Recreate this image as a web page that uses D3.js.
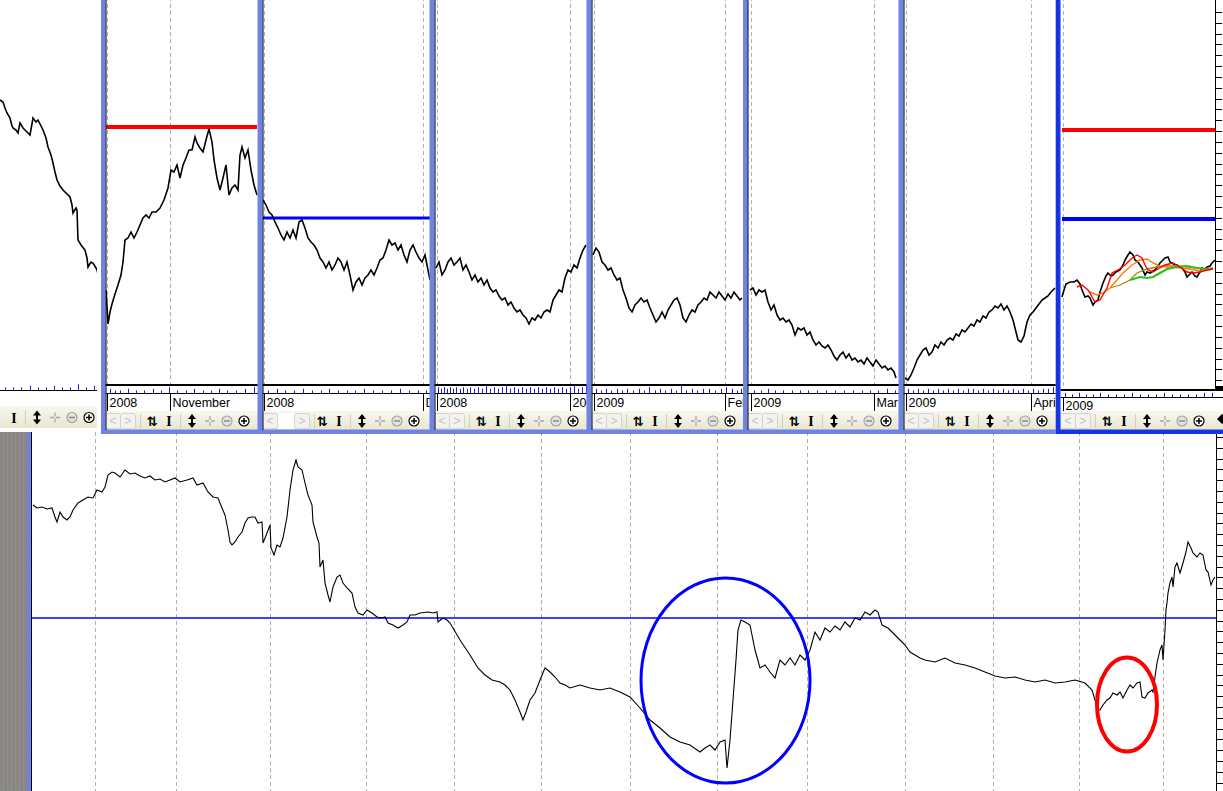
<!DOCTYPE html>
<html><head><meta charset="utf-8">
<script src="https://cdn.jsdelivr.net/npm/d3@7"></script>
<style>body{margin:0;background:#fff;overflow:hidden}svg{display:block}</style>
</head><body><script>
// ---------------- DATA ----------------
// top panels: [day offset within panel, price]
const p0Prices = [[0,30.0],[3,29.8],[5,29.2],[7,28.7],[10,28.2],[12,27.4],[13,27.2],[16,27.0],[18,26.7],[20,27.7],[23,27.2],[25,27.0],[28,26.7],[30,26.5],[33,28.2],[36,27.8],[38,28.0],[41,27.4],[43,27.0],[46,26.2],[48,25.3],[51,24.5],[53,23.7],[55,22.8],[57,22.0],[60,21.4],[63,21.0],[66,20.7],[70,20.3],[72,19.5],[73,18.7],[76,19.2],[77,19.0],[78,16.0],[81,15.5],[85,15.0],[87,14.2],[88,13.3],[91,13.8],[93,13.7],[96,13.2],[97,13.0],[100,11.8]];
const p1Prices = [[0,11.0],[2,7.6],[4,8.8],[6,9.6],[9,10.6],[12,11.5],[15,12.5],[17,13.8],[19,16.0],[22,16.2],[25,16.8],[28,16.2],[31,16.8],[34,17.5],[37,18.2],[40,18.5],[43,18.2],[46,18.8],[50,18.8],[54,19.2],[58,20.0],[62,21.2],[65,23.0],[68,22.8],[71,23.5],[74,22.2],[77,23.5],[80,24.2],[83,25.0],[86,25.0],[89,26.3],[91,25.7],[94,25.2],[97,24.8],[100,26.0],[103,27.1],[106,25.8],[108,24.0],[111,22.2],[114,21.0],[117,22.2],[120,23.5],[123,20.5],[126,21.2],[129,21.5],[132,21.0],[134,24.5],[136,25.3],[139,24.2],[142,25.0],[145,23.0],[148,21.5],[151,20.5]];
const p2Prices = [[0,20.0],[3,19.5],[6,18.8],[9,18.5],[12,17.8],[15,17.2],[18,16.5],[21,16.0],[24,16.8],[27,16.2],[30,17.0],[33,16.2],[36,17.8],[39,18.0],[42,17.2],[45,16.2],[48,15.8],[51,15.5],[54,15.0],[57,14.2],[60,13.8],[63,13.2],[66,13.8],[69,13.0],[72,13.5],[75,14.2],[78,13.8],[81,13.0],[84,13.8],[87,12.5],[90,11.0],[93,11.8],[96,12.2],[99,11.5],[102,12.2],[105,12.5],[108,13.0],[111,12.5],[114,13.2],[117,14.0],[120,14.2],[123,15.0],[126,16.0],[129,15.5],[132,15.7],[135,15.0],[138,15.5],[141,14.5],[144,13.8],[147,15.0],[150,15.5],[153,14.8],[156,14.2],[159,13.8],[162,14.5],[165,13.0],[167,12.0]];
const p3Prices = [[0,13.2],[3,13.8],[6,12.5],[9,13.0],[12,13.8],[15,14.2],[18,13.5],[21,13.8],[24,14.2],[27,13.0],[30,13.5],[33,12.8],[36,12.0],[39,12.5],[42,11.8],[45,12.2],[48,11.5],[51,12.0],[54,11.2],[57,10.8],[60,11.0],[63,10.4],[66,10.0],[69,10.2],[72,9.5],[75,9.8],[78,9.2],[81,8.8],[84,9.0],[87,8.5],[90,8.2],[93,7.6],[96,8.2],[99,8.0],[102,8.5],[105,8.2],[108,8.8],[111,9.0],[114,8.8],[117,10.0],[120,10.5],[123,11.0],[126,10.8],[129,12.2],[132,13.0],[135,12.8],[138,13.5],[141,13.2],[144,14.2],[147,15.0],[150,15.5]];
const p4Prices = [[0,14.5],[3,15.2],[6,14.8],[9,13.8],[12,13.5],[15,13.0],[18,13.2],[21,12.5],[24,12.0],[27,12.2],[30,11.0],[33,10.2],[36,9.2],[39,8.8],[42,9.5],[45,9.8],[48,10.2],[51,9.8],[54,10.0],[57,9.2],[60,8.5],[63,7.8],[66,8.2],[69,8.8],[72,8.2],[75,9.0],[78,9.5],[81,10.0],[84,10.2],[87,9.5],[90,8.2],[93,7.8],[96,8.5],[99,9.0],[102,8.8],[105,9.5],[108,9.8],[111,10.2],[114,10.0],[117,10.8],[120,10.5],[123,10.2],[126,10.8],[129,10.4],[132,10.0],[135,10.6],[138,10.2],[141,10.8],[144,10.4],[147,10.0],[149,10.2]];
const p5Prices = [[0,11.0],[3,11.2],[6,10.5],[9,11.0],[12,10.8],[15,11.0],[18,9.8],[21,9.0],[24,9.5],[27,8.5],[30,8.0],[33,8.2],[36,7.8],[39,8.0],[42,7.5],[45,6.5],[48,7.2],[51,7.0],[54,7.2],[57,6.5],[60,6.8],[63,6.0],[66,5.5],[69,5.8],[72,5.4],[75,5.2],[78,5.5],[81,5.0],[84,4.4],[87,4.0],[90,4.5],[93,4.8],[96,4.2],[99,4.6],[102,4.0],[105,4.2],[108,3.8],[111,4.0],[114,3.6],[117,4.2],[120,3.8],[123,3.4],[126,4.0],[129,3.6],[132,3.2],[135,3.4],[138,3.0],[141,3.2],[144,2.8],[146,2.2]];
const p6Prices = [[0,2.2],[3,2.0],[6,2.5],[9,3.2],[12,4.0],[15,4.5],[18,5.0],[21,5.2],[24,4.5],[27,4.8],[30,5.5],[33,5.2],[36,5.8],[39,5.5],[42,6.0],[45,6.2],[48,6.0],[51,6.6],[54,6.4],[57,7.0],[60,6.8],[63,7.2],[66,7.6],[69,7.4],[72,8.0],[75,7.8],[78,8.4],[81,8.2],[84,8.8],[87,9.0],[90,9.4],[93,9.2],[96,9.6],[99,9.0],[102,9.4],[105,8.8],[108,8.0],[111,6.8],[113,6.0],[116,5.8],[119,6.4],[122,7.8],[125,8.5],[128,8.8],[131,9.2],[134,9.6],[137,10.0],[140,10.2],[143,10.4],[146,10.8],[150,11.2]];
const p7Prices = [[0,10.3],[2,11.0],[4,11.6],[8,11.8],[12,11.8],[15,12.0],[18,11.6],[20,11.0],[23,10.3],[26,10.4],[28,10.2],[31,9.5],[33,9.8],[36,10.0],[38,10.8],[41,11.7],[44,12.4],[46,12.7],[49,12.4],[51,12.5],[54,12.8],[58,13.0],[61,13.5],[63,14.0],[66,14.5],[68,14.8],[71,14.5],[73,14.0],[76,13.8],[78,13.5],[80,13.2],[83,12.5],[85,12.8],[88,12.7],[91,12.9],[93,13.0],[96,13.4],[98,13.7],[101,14.0],[103,14.2],[106,14.3],[108,13.8],[110,13.7],[113,13.5],[115,13.5],[118,13.3],[120,13.2],[123,12.8],[125,12.3],[128,12.6],[130,12.8],[133,12.4],[135,12.3],[138,12.8],[140,13.2],[143,13.1],[145,13.3],[148,13.4],[150,13.7],[153,14.0]];
// moving averages in the last panel
const p7MaRed = [[15,11.3],[20,11.5],[26,11.0],[33,9.8],[38,10.0],[45,11.2],[50,12.7],[56,13.0],[63,13.5],[70,14.2],[75,14.5],[80,14.2],[83,13.5],[86,13.0],[91,12.8],[96,13.1],[103,13.5],[111,13.7],[118,13.3],[125,12.8],[131,12.7],[138,12.8],[145,13.0],[151,13.1]];
const p7MaOrange = [[28,10.8],[35,10.5],[41,10.7],[48,11.2],[55,12.0],[61,12.7],[70,13.5],[78,14.0],[85,14.1],[91,13.7],[98,13.4],[105,13.3],[111,13.3],[118,13.2],[128,13.1],[138,12.9],[151,13.1]];
const p7MaOlive = [[48,11.2],[58,11.5],[68,12.0],[75,12.7],[85,13.1],[95,13.3],[105,13.4],[115,13.4],[128,13.3],[141,13.1],[151,13.2]];
const p7MaGreen = [[68,12.0],[78,12.3],[85,12.2],[91,12.3],[98,12.7],[105,13.1],[115,13.3],[125,13.4],[135,13.2],[145,13.1],[151,13.1]];
// horizontal levels
const p1RedLevel = 27.3, p2BlueLevel = 18.2, p7RedLevel = 27.0, p7BlueLevel = 18.1;
// volume: [day, size]
const vol0 = [[5,1],[13,1],[21,1],[30,2],[38,1],[46,1],[54,2],[62,1],[70,1],[78,3],[86,1],[94,2]];
const vol1 = [[4,2],[9,1],[14,1],[22,2],[30,1],[38,1],[47,2],[55,1],[63,3],[71,1],[80,1],[88,2],[97,1],[105,1],[113,2],[121,1],[130,1],[139,2],[148,3]];
const vol2 = [[5,1],[14,2],[22,1],[31,1],[40,2],[49,1],[58,1],[66,2],[75,1],[84,1],[92,1],[101,2],[110,1],[119,1],[128,1],[137,2],[146,1],[155,1],[163,1]];
const vol3 = [[2,3],[5,2],[8,3],[11,2],[14,3],[17,2],[20,3],[24,2],[27,3],[31,2],[34,3],[38,2],[42,3],[46,2],[50,4],[54,2],[58,3],[62,2],[66,3],[70,4],[74,2],[78,3],[82,2],[86,3],[90,2],[94,3],[98,2],[102,3],[106,2],[110,3],[114,2],[118,3],[122,2],[126,3],[130,2],[134,3],[138,4],[142,2],[146,3],[150,4]];
const vol4 = [[3,2],[8,1],[13,2],[18,1],[24,2],[29,1],[34,2],[40,1],[46,2],[51,1],[56,3],[62,1],[67,2],[72,1],[78,2],[83,1],[88,4],[93,1],[99,2],[104,1],[110,2],[116,2],[122,1],[128,2],[133,3],[139,2],[144,1],[148,2]];
const vol5 = [[4,1],[11,1],[18,2],[25,1],[33,1],[42,1],[50,1],[58,1],[67,1],[76,1],[85,1],[94,1],[103,1],[112,1],[120,1],[128,1],[137,2],[145,1]];
const vol6 = [[3,2],[8,1],[13,2],[18,1],[23,2],[28,1],[33,2],[38,1],[43,2],[48,1],[53,2],[58,1],[63,2],[68,2],[73,1],[78,2],[83,1],[88,2],[93,1],[98,2],[103,1],[108,2],[113,1],[118,2],[123,1],[128,2],[133,1],[138,2],[143,2],[148,3]];
const vol7 = [[3,2],[10,1],[17,2],[24,1],[31,1],[38,2],[46,1],[54,1],[62,1],[70,2],[78,1],[86,1],[94,1],[102,2],[110,1],[118,1],[126,1],[134,1],[142,2],[150,2]];
// date tick labels and their day offsets
const dateLabels = [[], ["2008","November"], ["2008","D"], ["2008","200"], ["2009","Feb"], ["2009","Mar"], ["2009","Apri"], ["2009"]];
const labelDays = [[], [1,64], [1,160], [1,134], [1,132], [1,124], [1,126], [1]];

// bottom panel: [day, ratio]
const ratioSeries = [[1,2.95],[5,2.92],[10,2.93],[15,2.91],[20,2.92],[23,2.83],[25,2.78],[28,2.88],[31,2.83],[35,2.80],[38,2.83],[41,2.90],[46,2.97],[51,3.00],[56,3.03],[61,3.02],[65,3.10],[70,3.08],[73,3.13],[76,3.25],[80,3.28],[83,3.27],[88,3.23],[93,3.30],[98,3.26],[103,3.27],[108,3.24],[113,3.22],[118,3.24],[123,3.20],[128,3.21],[133,3.18],[138,3.20],[143,3.22],[148,3.18],[155,3.20],[161,3.22],[165,3.15],[171,3.17],[176,3.08],[181,3.03],[186,3.02],[190,2.92],[193,2.85],[196,2.70],[198,2.58],[200,2.55],[203,2.58],[206,2.63],[210,2.68],[213,2.77],[216,2.82],[220,2.83],[223,2.83],[226,2.77],[230,2.78],[231,2.57],[235,2.67],[238,2.75],[239,2.52],[242,2.45],[245,2.55],[248,2.53],[251,2.62],[255,2.83],[258,3.10],[261,3.30],[264,3.40],[266,3.33],[270,3.30],[273,3.17],[276,3.05],[280,2.95],[281,2.78],[285,2.63],[287,2.57],[288,2.33],[291,2.40],[293,2.17],[296,2.05],[298,1.98],[301,2.13],[305,2.23],[308,2.25],[311,2.17],[315,2.12],[320,2.07],[323,1.93],[326,1.87],[331,1.85],[335,1.90],[340,1.87],[345,1.83],[350,1.82],[353,1.83],[356,1.77],[361,1.75],[366,1.72],[371,1.75],[375,1.78],[378,1.85],[383,1.85],[388,1.87],[396,1.88],[401,1.87],[405,1.88],[406,1.78],[411,1.82],[415,1.80],[418,1.77],[421,1.72],[428,1.60],[438,1.45],[446,1.32],[453,1.25],[460,1.20],[468,1.18],[473,1.15],[478,1.10],[483,1.00],[488,0.88],[491,0.80],[494,0.88],[498,1.00],[503,1.07],[508,1.20],[513,1.32],[518,1.28],[523,1.23],[528,1.17],[533,1.15],[538,1.12],[548,1.15],[558,1.12],[568,1.10],[578,1.12],[588,1.08],[598,1.03],[608,0.92],[618,0.80],[628,0.72],[638,0.63],[648,0.58],[658,0.55],[668,0.48],[673,0.52],[678,0.55],[683,0.50],[688,0.58],[693,0.60],[695,0.32],[698,0.60],[701,1.00],[704,1.40],[706,1.70],[709,1.80],[713,1.78],[718,1.75],[723,1.50],[728,1.32],[733,1.35],[738,1.28],[743,1.22],[748,1.40],[753,1.35],[758,1.42],[763,1.35],[768,1.45],[773,1.40],[778,1.50],[783,1.68],[788,1.60],[793,1.72],[798,1.68],[803,1.74],[808,1.70],[813,1.78],[818,1.73],[823,1.82],[828,1.80],[833,1.88],[838,1.85],[843,1.90],[846,1.88],[850,1.75],[856,1.72],[863,1.65],[868,1.60],[873,1.55],[878,1.48],[883,1.45],[888,1.42],[893,1.40],[903,1.38],[913,1.42],[923,1.37],[933,1.35],[943,1.32],[953,1.28],[963,1.24],[973,1.22],[983,1.23],[993,1.20],[1003,1.18],[1013,1.20],[1023,1.17],[1033,1.18],[1043,1.20],[1053,1.17],[1060,1.10],[1066,0.90],[1068,0.90],[1071,0.95],[1075,1.00],[1078,1.02],[1081,1.07],[1085,1.05],[1088,1.08],[1091,1.02],[1095,1.10],[1098,1.15],[1101,1.12],[1105,1.17],[1108,1.18],[1110,1.03],[1113,1.02],[1116,1.07],[1120,1.10],[1121,1.08],[1123,1.23],[1125,1.37],[1128,1.50],[1130,1.55],[1131,1.40],[1133,1.70],[1134,1.90],[1135,1.97],[1136,2.07],[1138,2.17],[1140,2.23],[1141,2.13],[1143,2.33],[1145,2.37],[1148,2.27],[1151,2.37],[1154,2.48],[1156,2.58],[1159,2.52],[1161,2.47],[1165,2.43],[1168,2.47],[1171,2.45],[1174,2.30],[1176,2.28],[1179,2.15],[1181,2.20],[1183,2.23]];
const ratioLevel = 1.82;
const monthGridDays = [63,144,238,334,422,509,598,685,775,873,961,1047,1131];
// highlighted regions: [centre day, centre ratio, half-width days, half-height ratio]
const blueCircle = [693.5, 1.195, 84.5, 1.025];
const redCircle = [1095, 0.955, 30, 0.47];

// ---------------- DRAWING ----------------
const W = 1223, H = 791;
const svg = d3.select("body").append("svg").attr("width", W).attr("height", H)
  .style("font-family", "'Liberation Sans', Arial, sans-serif");
const defs = svg.append("defs");
svg.append("rect").attr("width", W).attr("height", H).attr("fill", "#fff");

const pat = defs.append("pattern").attr("id", "noise").attr("patternUnits", "userSpaceOnUse").attr("width", 4).attr("height", 3);
const noiseCols = [["#8e8299","#909070","#7d7b8a","#9a9084"],["#8a9478","#827a94","#968a7a","#85908e"],["#938575","#8a8f9a","#7f866a","#9c8fa0"]];
noiseCols.forEach((row, r) => row.forEach((c, i) => pat.append("rect").attr("x", i).attr("y", r).attr("width", 1).attr("height", 1).attr("fill", c)));
const tbGrad = defs.append("linearGradient").attr("id", "tb").attr("x1", 0).attr("x2", 0).attr("y1", 0).attr("y2", 1);
tbGrad.append("stop").attr("offset", 0).attr("stop-color", "#f7f7ef");
tbGrad.append("stop").attr("offset", 1).attr("stop-color", "#e9e6cf");

// ---- bottom panel ----
const xBot = d3.scaleLinear().domain([0, 1184]).range([32, 1216]);
const yBot = d3.scaleLinear().domain([0.09, 3.68]).range([791, 432]);
const bot = svg.append("g");
bot.append("rect").attr("x", 0).attr("y", 432).attr("width", 27).attr("height", 359).attr("fill", "url(#noise)");
bot.append("rect").attr("x", 27).attr("y", 430).attr("width", 4).attr("height", 361).attr("fill", "#7083e4");
bot.append("line").attr("x1", 31.5).attr("x2", 31.5).attr("y1", 430).attr("y2", 791).attr("stroke", "#000");
bot.selectAll(".bg").data(monthGridDays).join("line")
  .attr("x1", d => Math.round(xBot(d)) + 0.5).attr("x2", d => Math.round(xBot(d)) + 0.5)
  .attr("y1", 432).attr("y2", 791).attr("stroke", "#b2b2aa").attr("stroke-dasharray", "4,3");
bot.append("line").attr("x1", 32).attr("x2", 1216).attr("y1", yBot(ratioLevel)).attr("y2", yBot(ratioLevel))
  .attr("stroke", "#0000ff").attr("stroke-width", 1.3);
bot.append("path").datum(ratioSeries)
  .attr("d", d3.line().x(d => xBot(d[0])).y(d => yBot(d[1])))
  .attr("fill", "none").attr("stroke", "#000").attr("stroke-width", 1.1);
function ellipse(c, color, w) {
  const cx = xBot(c[0]), cy = yBot(c[1]);
  bot.append("ellipse").attr("cx", cx).attr("cy", cy)
    .attr("rx", xBot(c[0] + c[2]) - cx).attr("ry", cy - yBot(c[1] + c[3]))
    .attr("fill", "none").attr("stroke", color).attr("stroke-width", w);
}
ellipse(blueCircle, "#0000ff", 3);
ellipse(redCircle, "#ff0000", 4);
const botTicks = d3.range(3.63, 0.15, -0.108);
bot.append("line").attr("x1", 1216.5).attr("x2", 1216.5).attr("y1", 432).attr("y2", 791).attr("stroke", "#000");
bot.selectAll(".bt").data(botTicks).join("line")
  .attr("x1", 1216).attr("x2", 1223).attr("y1", d => Math.round(yBot(d)) + 0.5).attr("y2", d => Math.round(yBot(d)) + 0.5)
  .attr("stroke", "#000");

// ---- top panels ----
const yTop = d3.scaleLinear().domain([0, 40]).range([400, 0]);
const panels = [
  {ol:-20, or:100.5, il:0,    ir:100,  plotB:390, volB:390, volTop:null, rowT:null, tbT:406, tbB:428, tbX:-50, series:p0Prices, vol:vol0},
  {ol:101, or:262,   il:106,  ir:257,  plotB:385, volB:393, volTop:385, rowT:394, tbT:411, tbB:430, tbX:105, series:p1Prices, vol:vol1},
  {ol:258, or:434,   il:263,  ir:430,  plotB:385, volB:393, volTop:385, rowT:394, tbT:411, tbB:430, tbX:262, series:p2Prices, vol:vol2, wide:true},
  {ol:430, or:591,   il:436,  ir:587,  plotB:385, volB:393, volTop:385, rowT:394, tbT:411, tbB:430, tbX:434, series:p3Prices, vol:vol3},
  {ol:587, or:748,   il:593,  ir:743,  plotB:385, volB:393, volTop:385, rowT:394, tbT:411, tbB:430, tbX:591, series:p4Prices, vol:vol4},
  {ol:743, or:903,   il:750,  ir:899,  plotB:385, volB:393, volTop:385, rowT:394, tbT:411, tbB:430, tbX:747, series:p5Prices, vol:vol5},
  {ol:899, or:1060,  il:905,  ir:1055, plotB:385, volB:393, volTop:385, rowT:394, tbT:411, tbB:430, tbX:903, series:p6Prices, vol:vol6},
  {ol:1056,or:1260,  il:1062, ir:1215, plotB:390, volB:397, volTop:390, rowT:397, tbT:411, tbB:430, tbX:1060, series:p7Prices, vol:vol7, dark:true}
];
const stdOffs = [8, 23, 47, 64, 87, 105, 122, 139];
const wideOffs = [8, 40, 60, 77, 100, 118, 135, 152];

function toolbar(g, ox, cy, offs, wide) {
  const show = o => ox + o > 4;
  const nav = (x, s) => {
    g.append("rect").attr("x", x - 7.5).attr("y", cy - 7.5).attr("width", 15).attr("height", 15).attr("rx", 2)
      .attr("fill", "#f3f3ee").attr("stroke", "#d4d4cc");
    g.append("text").attr("x", x).attr("y", cy + 4).attr("text-anchor", "middle").attr("font-size", 12)
      .attr("fill", "#c4c4c0").text(s);
  };
  if (show(offs[0])) nav(ox + offs[0], "<");
  if (wide) g.append("rect").attr("x", ox + 16).attr("y", cy - 8).attr("width", 18).attr("height", 16).attr("fill", "#fff");
  if (show(offs[1])) nav(ox + offs[1], ">");
  [offs[1] + 12, offs[3] + 11].forEach(o => g.append("line").attr("x1", ox + o + 0.5).attr("x2", ox + o + 0.5)
    .attr("y1", cy - 7).attr("y2", cy + 7).attr("stroke", "#cfcfc4"));
  if (show(offs[2])) g.append("text").attr("x", ox + offs[2]).attr("y", cy + 5).attr("text-anchor", "middle")
    .attr("font-family", "'DejaVu Sans', sans-serif").attr("font-size", 13).attr("font-weight", "bold").attr("fill", "#000").text("⇅");
  g.append("text").attr("x", ox + offs[3]).attr("y", cy + 5).attr("text-anchor", "middle")
    .attr("font-family", "'Liberation Serif', serif").attr("font-size", 14).attr("font-weight", "bold").attr("fill", "#000").text("I");
  const ux = ox + offs[4];
  g.append("path").attr("d", `M${ux},${cy-7}L${ux+4},${cy-2}L${ux-4},${cy-2}ZM${ux},${cy+7}L${ux+4},${cy+2}L${ux-4},${cy+2}Z M${ux-1},${cy-2}h2v4h-2z`).attr("fill", "#000");
  const cx = ox + offs[5];
  g.append("path").attr("d", `M${cx-5},${cy}h4M${cx+1},${cy}h4M${cx},${cy-5}v4M${cx},${cy+1}v4`).attr("stroke", "#a8a8a8").attr("stroke-width", 1.3);
  const mx = ox + offs[6];
  g.append("circle").attr("cx", mx).attr("cy", cy).attr("r", 5).attr("fill", "#e2e2de").attr("stroke", "#a4a4a4").attr("stroke-width", 1.2);
  g.append("line").attr("x1", mx - 3).attr("x2", mx + 3).attr("y1", cy).attr("y2", cy).attr("stroke", "#8c8c8c").attr("stroke-width", 1.5);
  const px = ox + offs[7];
  g.append("circle").attr("cx", px).attr("cy", cy).attr("r", 5).attr("fill", "#fff").attr("stroke", "#000").attr("stroke-width", 1.2);
  g.append("path").attr("d", `M${px-3},${cy}h6M${px},${cy-3}v6`).attr("stroke", "#000").attr("stroke-width", 1.5);
}

panels.forEach((p, i) => {
  const clipId = "clip" + i;
  defs.append("clipPath").attr("id", clipId).append("rect")
    .attr("x", p.ol + 4.5).attr("y", -10).attr("width", p.or - p.ol - 8).attr("height", 445);
  const g = svg.append("g").attr("clip-path", `url(#${clipId})`);
  g.append("rect").attr("x", p.ol).attr("y", -10).attr("width", p.or - p.ol).attr("height", 442).attr("fill", "#fff");
  const xs = d3.scaleLinear().domain([0, p.ir - p.il]).range([p.il, p.ir]);
  const days = labelDays[i];
  g.selectAll(".tg").data(days).join("line")
    .attr("x1", d => Math.round(xs(d)) + 0.5).attr("x2", d => Math.round(xs(d)) + 0.5)
    .attr("y1", -10).attr("y2", p.plotB).attr("stroke", "#b2b2aa").attr("stroke-dasharray", "4,3");
  const line = d3.line().x(d => xs(d[0])).y(d => yTop(d[1]));
  const hl = (v, color, w) => g.append("line").attr("x1", p.il).attr("x2", p.ir).attr("y1", yTop(v)).attr("y2", yTop(v))
    .attr("stroke", color).attr("stroke-width", w);
  if (i === 1) hl(p1RedLevel, "#ff0000", 4);
  if (i === 2) hl(p2BlueLevel, "#0000ff", 3);
  if (i === 7) { hl(p7RedLevel, "#ff0000", 4); hl(p7BlueLevel, "#0000ff", 4); }
  const plotG = g.append("g");
  plotG.append("path").datum(p.series).attr("d", line).attr("fill", "none").attr("stroke", "#000").attr("stroke-width", 1.6);
  if (i === 7) {
    [[p7MaOlive, "#a08c00", 1.3], [p7MaOrange, "#ff7a00", 1.4], [p7MaGreen, "#2fbf1f", 2.2], [p7MaRed, "#ff0000", 1.4]]
      .forEach(([d, c, w]) => plotG.append("path").datum(d).attr("d", line).attr("fill", "none").attr("stroke", c).attr("stroke-width", w));
  }
  if (p.volTop !== null) g.append("line").attr("x1", p.ol).attr("x2", p.or).attr("y1", p.volTop).attr("y2", p.volTop).attr("stroke", "#000").attr("stroke-width", 2);
  g.selectAll(".v").data(p.vol).join("line")
    .attr("x1", d => Math.round(xs(d[0])) + 0.5).attr("x2", d => Math.round(xs(d[0])) + 0.5)
    .attr("y1", p.volB).attr("y2", d => p.volB - 1 - d[1] * 1.6).attr("stroke", "#1a1ae0");
  g.append("line").attr("x1", p.ol).attr("x2", p.or).attr("y1", p.volB + 0.5).attr("y2", p.volB + 0.5).attr("stroke", "#000");
  if (p.rowT !== null) {
    days.forEach((d, k) => {
      const x = Math.round(xs(d)) + 0.5;
      g.append("line").attr("x1", x).attr("x2", x).attr("y1", p.rowT).attr("y2", p.tbT).attr("stroke", "#000");
      g.append("text").attr("x", x + 2).attr("y", p.rowT + 13).attr("font-size", 12.5).attr("fill", "#000").text(dateLabels[i][k]);
    });
  }
  g.append("rect").attr("x", p.ol).attr("y", p.tbT).attr("width", p.or - p.ol).attr("height", p.tbB - p.tbT).attr("fill", "url(#tb)");
  toolbar(g, p.tbX, (p.tbT + p.tbB) / 2 + 0.5, p.wide ? wideOffs : stdOffs, p.wide);
  if (i === 7) {
    const ticks = d3.range(38.8, 1.9, -1.083);
    g.append("line").attr("x1", 1215.5).attr("x2", 1215.5).attr("y1", -10).attr("y2", p.plotB).attr("stroke", "#000");
    g.selectAll(".rt").data(ticks).join("line")
      .attr("x1", 1215).attr("x2", 1222).attr("y1", d => Math.round(yTop(d)) + 0.5).attr("y2", d => Math.round(yTop(d)) + 0.5).attr("stroke", "#000");
    g.append("rect").attr("x", 1216).attr("y", 386).attr("width", 7).attr("height", 4).attr("fill", "#000");
    g.append("path").attr("d", "M1222,414l5,5l-5,5l-5,-5z").attr("fill", "#000");
  }
  if (i > 0) {
    svg.append("rect").attr("x", p.ol + 2.25).attr("y", -10).attr("width", p.or - p.ol - 4.5).attr("height", 444 - 2.25)
      .attr("fill", "none").attr("stroke", p.dark ? "#1634e2" : "#6f82e6").attr("stroke-width", 4.5);
    if (!p.dark) svg.append("line").attr("x1", p.ol + 5).attr("x2", p.ol + 5).attr("y1", -10).attr("y2", 430).attr("stroke", "#000").attr("stroke-width", 1);
  }
});
</script></body></html>
